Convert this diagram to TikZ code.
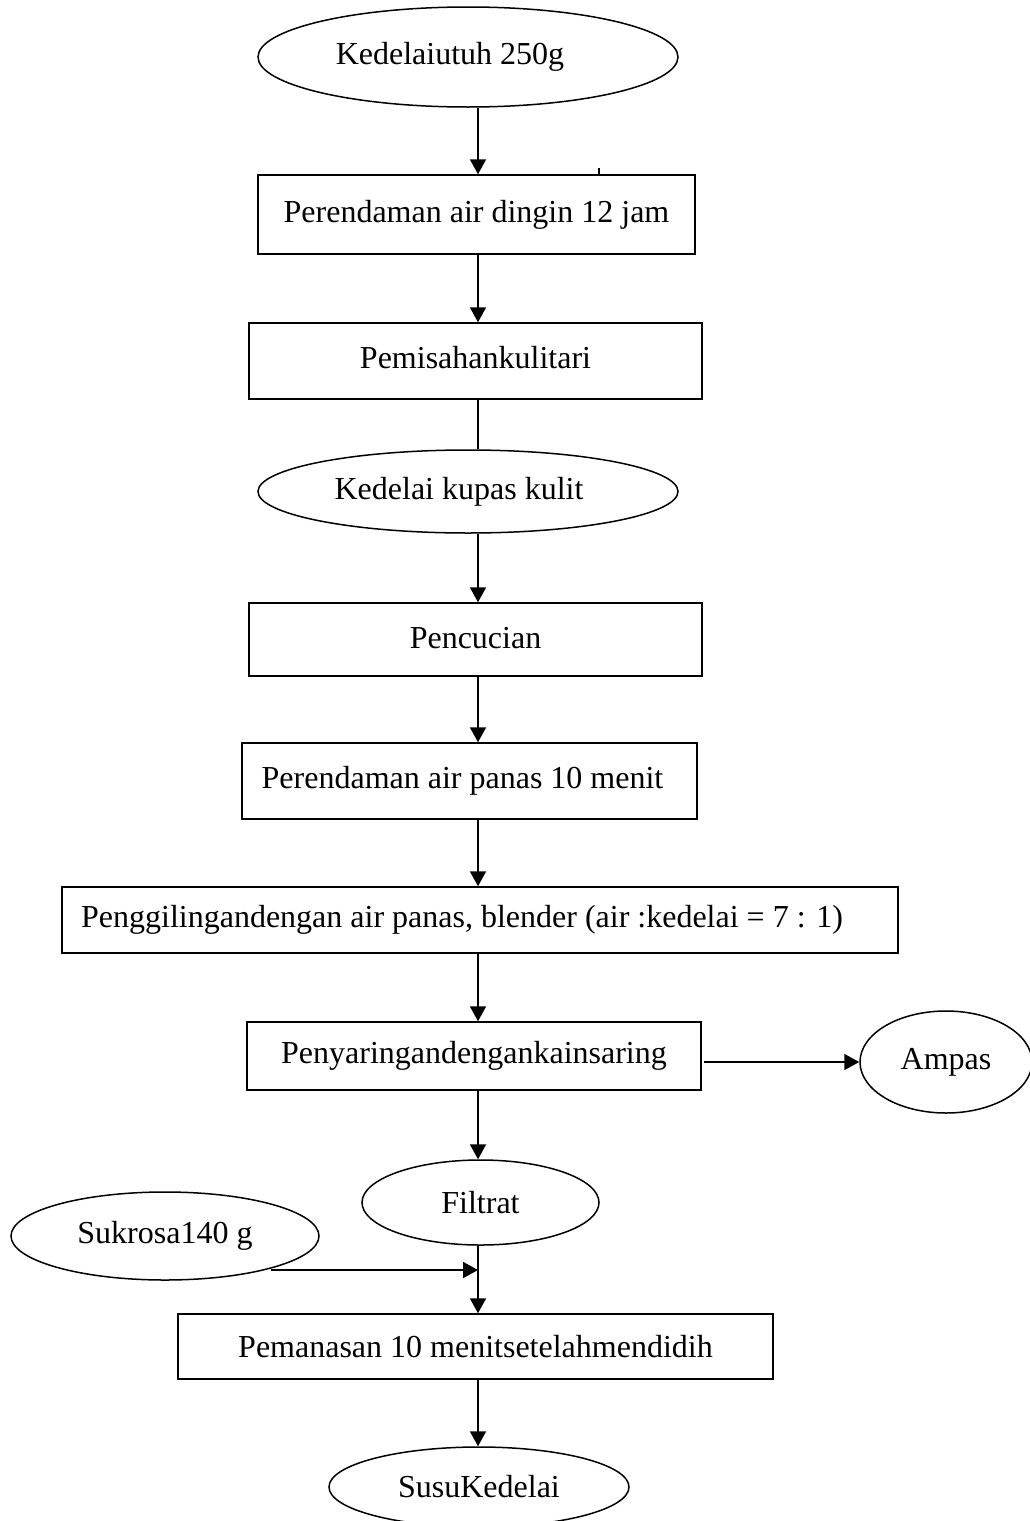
\documentclass[tikz,border=0pt]{standalone}
\usepackage{fontspec}
\setmainfont{Liberation Serif}
\usetikzlibrary{shapes.geometric,arrows.meta}
\begin{document}
\begin{tikzpicture}[x=1pt,y=-1pt,
  every node/.style={font=\fontsize{32}{38}\selectfont, inner sep=0pt},
  procbox/.style={draw, line width=1.5pt, rectangle},
  termell/.style={draw, line width=1.5pt, ellipse},
  arr/.style={line width=1.9pt, -{Triangle[width=16pt,length=15pt]}},
  plain/.style={line width=1.9pt}
]
\useasboundingbox (0,0) rectangle (1030,1521);
\coordinate (ax) at (478,0);

\node[termell, minimum width=420pt, minimum height=100pt] (e1) at (468,57) {\hspace*{-36pt}\raisebox{4pt}{Kedelaiutuh 250g}};
\node[procbox, minimum width=437pt, minimum height=79pt] (r1) at (476.5,214.5) {\raisebox{5pt}{Perendaman air dingin 12 jam}};
\node[procbox, minimum width=453pt, minimum height=76pt] (r2) at (475.5,361) {\raisebox{8pt}{Pemisahankulitari}};
\node[termell, minimum width=420pt, minimum height=83pt] (e2) at (468,491.5) {\hspace*{-18pt}Kedelai kupas kulit};
\node[procbox, minimum width=453pt, minimum height=73pt] (r3) at (475.5,639.5) {\raisebox{4pt}{Pencucian}};
\node[procbox, minimum width=455pt, minimum height=76pt] (r4) at (469.5,781) {\hspace*{-14pt}Perendaman air panas 10 menit};
\node[procbox, minimum width=836pt, minimum height=66pt] (r5) at (480,920) {\hspace*{-36pt}Penggilingandengan air panas, blender (air :kedelai = 7 : 1)};
\node[procbox, minimum width=454pt, minimum height=68pt] (r6) at (474,1056) {Penyaringandengankainsaring};
\node[termell, minimum width=172pt, minimum height=102pt] (e3) at (946,1062) {Ampas};
\node[termell, minimum width=237pt, minimum height=85pt] (e4) at (480.5,1202.5) {Filtrat};
\node[termell, minimum width=308pt, minimum height=88pt] (e5) at (165,1236) {Sukrosa140 g};
\node[procbox, minimum width=595pt, minimum height=65pt] (r7) at (475.5,1346.5) {Pemanasan 10 menitsetelahmendidih};
\node[termell, minimum width=300pt, minimum height=80pt] (e6) at (479,1487) {SusuKedelai};

\coordinate (s0) at (271,1270);
\coordinate (j) at (478,1270);

\draw[arr] (e1.south -| ax) -- (r1.north -| ax);
\draw[line width=1.2pt] (r1.north -| 599,0) -- ++(0,-6);
\draw[arr] (r1.south -| ax) -- (r2.north -| ax);
\draw[plain] (r2.south -| ax) -- (e2.north -| ax);
\draw[arr] (e2.south -| ax) -- (r3.north -| ax);
\draw[arr] (r3.south -| ax) -- (r4.north -| ax);
\draw[arr] (r4.south -| ax) -- (r5.north -| ax);
\draw[arr] (r5.south -| ax) -- (r6.north -| ax);
\draw[arr] ([xshift=2pt]r6.east |- e3.west) -- (e3.west);
\draw[arr] (r6.south -| ax) -- (e4.north -| ax);
\draw[arr] (e4.south -| ax) -- (r7.north -| ax);
\draw[arr] (s0) -- (j);
\draw[arr] (r7.south -| ax) -- (e6.north -| ax);
\end{tikzpicture}
\end{document}
